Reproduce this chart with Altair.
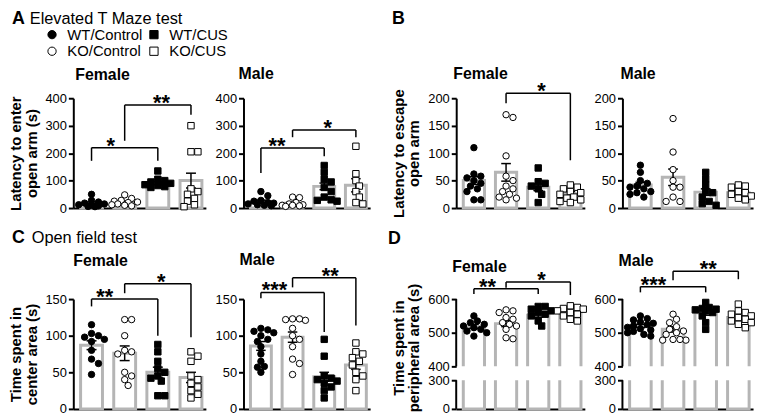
import altair as alt
import pandas as pd

FONT = "Liberation Sans"
GRAY = "#b5b5b5"
GROUPS = ["WT/Control", "KO/Control", "WT/CUS", "KO/CUS"]
FILLS = ["black", "white", "black", "white"]
SHAPES = ["circle", "circle", "square", "square"]
STROKES = ["black", "black", "black", "black"]

# ---------------- A: Elevated T maze, latency to enter open arm (s) ----------------
A_F_WT_CTRL = [50, 28, 22, 18, 15, 12, 10, 8, 6, 5]
A_F_KO_CTRL = [48, 35, 28, 25, 22, 20, 15, 12, 10, 8]
A_F_WT_CUS = [135, 105, 100, 95, 90, 85, 82, 78, 75]
A_F_KO_CUS = [300, 205, 205, 70, 60, 50, 35, 25, 12, 5]
A_F_MEAN = [18, 22, 91, 100]
A_F_SEM = [4, 4, 6, 27]
A_F_BRACKETS = [(0, 2, 220, 172, 172, "*", 0.58), (1, 3, 375, 245, 340, "**", 2.11)]

A_M_WT_CTRL = [60, 45, 28, 25, 20, 18, 15, 12, 10, 8]
A_M_KO_CTRL = [40, 38, 20, 15, 12, 10, 10, 8, 6]
A_M_WT_CUS = [155, 130, 105, 95, 75, 60, 40, 30, 28, 25]
A_M_KO_CUS = [225, 125, 100, 80, 60, 40, 20, 15]
A_M_MEAN = [24, 18, 79, 83]
A_M_SEM = [5, 3, 12, 24]
A_M_BRACKETS = [(0, 2, 219, 128, 189, "**", 0.51), (1, 3, 284, 258, 258, "*", 2.11)]

# ---------------- B: latency to escape open arm ----------------
B_F_WT_CTRL = [110, 62, 58, 55, 50, 45, 40, 35, 30, 15, 15]
B_F_KO_CTRL = [170, 165, 95, 58, 50, 40, 35, 30, 25, 20, 18, 15]
B_F_WT_CUS = [73, 48, 45, 40, 35, 25, 10]
B_F_KO_CUS = [42, 38, 35, 30, 28, 25, 20, 18, 15, 12, 10]
B_F_MEAN = [50, 65, 38, 26]
B_F_SEM = [7, 16, 6, 4]
B_F_BRACKETS = [(1, 3, 209, 191, 87, "*", 2.1)]

B_M_WT_CTRL = [78, 65, 50, 45, 40, 38, 35, 30, 28, 25, 20]
B_M_KO_CTRL = [163, 102, 70, 50, 38, 38, 20, 12, 12]
B_M_WT_CUS = [65, 53, 42, 30, 28, 20, 12, 8, 5]
B_M_KO_CUS = [42, 40, 38, 30, 28, 25, 22, 18, 15]
B_M_MEAN = [42, 56, 29, 28]
B_M_SEM = [5, 15, 6, 4]
B_M_BRACKETS = []

# ---------------- C: Open field, time in center area (s) ----------------
C_F_WT_CTRL = [115, 103, 100, 98, 95, 92, 80, 68, 62, 47]
C_F_KO_CTRL = [122, 122, 100, 80, 78, 75, 50, 45, 40, 32]
C_F_WT_CUS = [88, 78, 65, 55, 50, 45, 42, 38, 18, 18]
C_F_KO_CUS = [78, 72, 65, 45, 40, 35, 30, 25, 20, 15]
C_F_MEAN = [87, 76, 50, 43]
C_F_SEM = [6, 10, 7, 7]
C_F_BRACKETS = [(0, 2, 150, 140, 100, "**", 0.40), (1, 3, 171, 158, 98, "*", 2.1)]

C_M_WT_CTRL = [110, 108, 106, 104, 100, 95, 92, 85, 75, 65, 58, 57, 50]
C_M_KO_CTRL = [123, 122, 121, 123, 110, 100, 95, 85, 68, 62, 47]
C_M_WT_CUS = [95, 72, 45, 42, 40, 38, 35, 30, 25, 15]
C_M_KO_CUS = [90, 78, 75, 70, 65, 60, 50, 45, 40, 25]
C_M_MEAN = [86, 98, 44, 60]
C_M_SEM = [6, 7, 6, 6]
C_M_BRACKETS = [(0, 2, 159, 151, 105, "***", 0.43), (1, 3, 179, 166, 114, "**", 2.19)]

# ---------------- D: time in peripheral area (s) ----------------
D_F_WT_CTRL = [550, 535, 530, 525, 520, 515, 510, 505, 500, 490]
D_F_KO_CTRL = [568, 565, 560, 545, 540, 530, 525, 520, 510, 485, 482]
D_F_WT_CUS = [578, 578, 570, 565, 560, 555, 550, 535, 520]
D_F_KO_CUS = [580, 575, 572, 570, 565, 560, 555, 550, 540, 535]
D_F_MEAN = [519, 527, 552, 558]
D_F_SEM = [6, 9, 6, 4]
D_F_BRACKETS = [(0, 2, 631, 615, 615, "**", 0.42), (1, 3, 651, 634, 612, "*", 2.1)]

D_M_WT_CTRL = [550, 542, 538, 532, 528, 524, 520, 516, 512, 508, 504, 500, 495, 490]
D_M_KO_CTRL = [555, 540, 530, 518, 510, 505, 500, 495, 480, 478, 478, 480]
D_M_WT_CUS = [590, 575, 572, 570, 568, 565, 560, 550, 530, 510]
D_M_KO_CUS = [585, 565, 560, 555, 550, 545, 540, 535, 530, 525, 515]
D_M_MEAN = [520, 510, 559, 545]
D_M_SEM = [5, 8, 7, 6]
D_M_BRACKETS = [(0, 2, 637, 620, 620, "***", 0.40), (1, 3, 683, 656, 659, "**", 2.08)]

A_TICKS = [0, 100, 200, 300, 400]
B_TICKS = [0, 50, 100, 150, 200]
C_TICKS = [0, 50, 100, 150]
D_TICKS = [0, 300, 400, 500, 600]
D_BREAK = [300, 400]

H = 111
XDOM = [-0.55, 3.45]


def swarm(vals, pxu):
    """Deterministic beeswarm offsets (pixels) so markers do not overlap."""
    order = sorted(range(len(vals)), key=lambda k: -vals[k])
    placed = []
    offs = [0.0] * len(vals)
    cands = [0, 3.5, -3.5, 7, -7, 10.5, -10.5, 13, -13]
    for k in order:
        y = vals[k] * pxu
        best, bestd = 0, -1
        for c in cands:
            dmin = min([((c - px) ** 2 + (y - py) ** 2) ** 0.5 for px, py in placed], default=99)
            if dmin >= 6.0:
                best, bestd = c, dmin
                break
            if dmin > bestd:
                best, bestd = c, dmin
        placed.append((best, y))
        offs[k] = best
    return offs


def label(text, dx, dy, size, weight="normal"):
    return alt.Chart(pd.DataFrame({"t": [text]})).mark_text(
        align="left", baseline="alphabetic", fontSize=size, fontWeight=weight,
        font=FONT, color="black"
    ).encode(x=alt.value(dx), y=alt.value(dy), text="t:N")


LEG = alt.Legend(
    title=None, orient="none", legendX=-29, legendY=-72, columns=2,
    labelFontSize=15, labelFont=FONT, labelColor="black", symbolSize=70,
    symbolStrokeColor="black", symbolStrokeWidth=1, columnPadding=4,
    rowPadding=1, labelOffset=8,
)


def panel(vals, means, sems, brackets, width, ydom, yticks, ytitle, pxu,
          title, tdx, tdy, extras=(), broken=False):
    band = width / 4.0
    rows = []
    for gi, vs in enumerate(vals):
        for v, o in zip(vs, swarm(vs, pxu)):
            rows.append({"gi": gi, "grp": GROUPS[gi], "v": v, "xo": gi + o / band})
    pts = pd.DataFrame(rows)
    bars = pd.DataFrame({"gi": list(range(4)), "grp": GROUPS, "m": means, "s": sems})

    xs = alt.Scale(domain=XDOM, nice=False, zero=False)
    xaxis = alt.Axis(labels=False, ticks=False, title=None, domain=True)
    if broken:
        ys = alt.Scale(domain=[0, 300, 400, 600], range=[H, 82, 68, 0], nice=False, zero=False)
        yaxis = alt.Axis(values=yticks, title=ytitle, domain=False, zindex=1, titleY=49)
    else:
        ys = alt.Scale(domain=ydom, nice=False, zero=False)
        yaxis = alt.Axis(values=yticks, title=ytitle)

    def X(f):
        return alt.X(f, scale=xs, axis=xaxis)

    def Y(f):
        return alt.Y(f, scale=ys, axis=yaxis)

    bar = alt.Chart(bars).transform_calculate(
        x0="datum.gi - 0.33", x1="datum.gi + 0.33", base="0"
    ).mark_bar(fill="white", stroke=GRAY, strokeWidth=3).encode(
        x=X("x0:Q"), x2="x1:Q", y=Y("base:Q"), y2="m:Q",
    )
    layers = [bar]
    if broken:
        brk = pd.DataFrame({"a": [D_BREAK[0]], "b": [D_BREAK[1]]})
        layers.append(alt.Chart(brk).mark_rect(fill="white").encode(
            x=alt.value(0), x2=alt.value(width), y=Y("a:Q"), y2="b:Q"))
        segs = pd.DataFrame({"a": [0, D_BREAK[1]], "b": [D_BREAK[0], 600]})
        layers.append(alt.Chart(segs).mark_rule(color="black", strokeWidth=2).encode(
            x=alt.value(0), y=Y("a:Q"), y2="b:Q"))

    eb = alt.Chart(bars).transform_calculate(
        lo="datum.m - datum.s", hi="datum.m + datum.s",
        c0="datum.gi - 0.15", c1="datum.gi + 0.15")
    layers.append(eb.mark_rule(color="black", strokeWidth=1.5).encode(
        x=X("gi:Q"), y=Y("lo:Q"), y2="hi:Q"))
    layers.append(eb.mark_rule(color="black", strokeWidth=1.5).encode(
        x=X("c0:Q"), x2="c1:Q", y=Y("hi:Q")))
    layers.append(eb.mark_rule(color="black", strokeWidth=1.5).encode(
        x=X("c0:Q"), x2="c1:Q", y=Y("lo:Q")))

    layers.append(alt.Chart(pts).mark_point(
        filled=True, size=42, strokeWidth=1, opacity=1
    ).encode(
        x=X("xo:Q"),
        y=Y("v:Q"),
        fill=alt.Fill("grp:N", scale=alt.Scale(domain=GROUPS, range=FILLS), legend=LEG),
        shape=alt.Shape("grp:N", scale=alt.Scale(domain=GROUPS, range=SHAPES), legend=LEG),
        stroke=alt.Stroke("grp:N", scale=alt.Scale(domain=GROUPS, range=STROKES), legend=LEG),
    ))

    if brackets:
        bk = pd.DataFrame(brackets, columns=["i", "j", "top", "li", "lj", "lab", "sx"])
        bc = alt.Chart(bk)
        layers.append(bc.mark_rule(color="black", strokeWidth=1.5).encode(
            x=X("i:Q"), x2="j:Q", y=Y("top:Q")))
        layers.append(bc.mark_rule(color="black", strokeWidth=1.5).encode(
            x=X("i:Q"), y=Y("li:Q"), y2="top:Q"))
        layers.append(bc.mark_rule(color="black", strokeWidth=1.5).encode(
            x=X("j:Q"), y=Y("lj:Q"), y2="top:Q"))
        layers.append(bc.mark_text(fontSize=22, fontWeight="bold", font=FONT, color="black",
                                   baseline="alphabetic", dy=5).encode(
            x=X("sx:Q"), y=Y("top:Q"), text="lab:N"))

    layers.append(label(title, tdx, tdy, 16, "bold"))
    for e in extras:
        layers.append(label(*e))
    return alt.layer(*layers).properties(width=width, height=H)


def spacer():
    return alt.Chart(pd.DataFrame({"a": [0]})).mark_point(opacity=0).encode(
        x=alt.value(0), y=alt.value(0)).properties(width=11, height=H)


Af = panel([A_F_WT_CTRL, A_F_KO_CTRL, A_F_WT_CUS, A_F_KO_CUS], A_F_MEAN, A_F_SEM, A_F_BRACKETS,
           134, [0, 400], A_TICKS, ["Latency to enter", "open arm (s)"], 0.2775,
           "Female", 2, -18,
           extras=[("A", -62, -75, 18, "bold"), ("Elevated T Maze test", -44, -75, 16.5)])
Am = panel([A_M_WT_CTRL, A_M_KO_CTRL, A_M_WT_CUS, A_M_KO_CUS], A_M_MEAN, A_M_SEM, A_M_BRACKETS,
           128, [0, 400], A_TICKS, None, 0.2775, "Male", -5, -19)
Bf = panel([B_F_WT_CTRL, B_F_KO_CTRL, B_F_WT_CUS, B_F_KO_CUS], B_F_MEAN, B_F_SEM, B_F_BRACKETS,
           130, [0, 200], B_TICKS, ["Latency to escape", "open arm"], 0.55,
           "Female", -3, -19, extras=[("B", -65, -75, 18, "bold")])
Bm = panel([B_M_WT_CTRL, B_M_KO_CTRL, B_M_WT_CUS, B_M_KO_CUS], B_M_MEAN, B_M_SEM, B_M_BRACKETS,
           132, [0, 200], B_TICKS, None, 0.55, "Male", -2, -19)
Cf = panel([C_F_WT_CTRL, C_F_KO_CTRL, C_F_WT_CUS, C_F_KO_CUS], C_F_MEAN, C_F_SEM, C_F_BRACKETS,
           134, [0, 150], C_TICKS, ["Time spent in", "center area (s)"], 0.74,
           "Female", 0, -33,
           extras=[("C", -62, -57, 18, "bold"), ("Open field test", -42, -57, 16.5)])
Cm = panel([C_M_WT_CTRL, C_M_KO_CTRL, C_M_WT_CUS, C_M_KO_CUS], C_M_MEAN, C_M_SEM, C_M_BRACKETS,
           128, [0, 150], C_TICKS, None, 0.74, "Male", -4, -34)
Df = panel([D_F_WT_CTRL, D_F_KO_CTRL, D_F_WT_CUS, D_F_KO_CUS], D_F_MEAN, D_F_SEM, D_F_BRACKETS,
           130, [0, 600], D_TICKS, ["Time spent in", "peripheral area (s)"], 0.34,
           "Female", -4, -27, extras=[("D", -69, -56, 18, "bold")], broken=True)
Dm = panel([D_M_WT_CTRL, D_M_KO_CTRL, D_M_WT_CUS, D_M_KO_CUS], D_M_MEAN, D_M_SEM, D_M_BRACKETS,
           132, [0, 600], D_TICKS, None, 0.34, "Male", -4, -33, broken=True)

chart = alt.concat(
    Af, Am, spacer(), Bf, Bm,
    Cf, Cm, spacer(), Df, Dm,
    columns=5, spacing={"row": 92, "column": 38}, bounds="flush", align="each",
).properties(
    padding={"left": 0, "top": 0, "right": 0, "bottom": 0}
).configure_view(stroke=None).configure_axis(
    domainColor="black", domainWidth=2, tickColor="black", tickWidth=2, tickSize=5,
    labelFontSize=13, labelColor="black", labelFont=FONT, labelPadding=2,
    titleFont=FONT, titleFontSize=15, titleFontWeight="bold", titleColor="black",
    titlePadding=6, titleLineHeight=16, grid=False,
)

chart.save("out.html", embed_options={"renderer": "svg", "actions": False})
